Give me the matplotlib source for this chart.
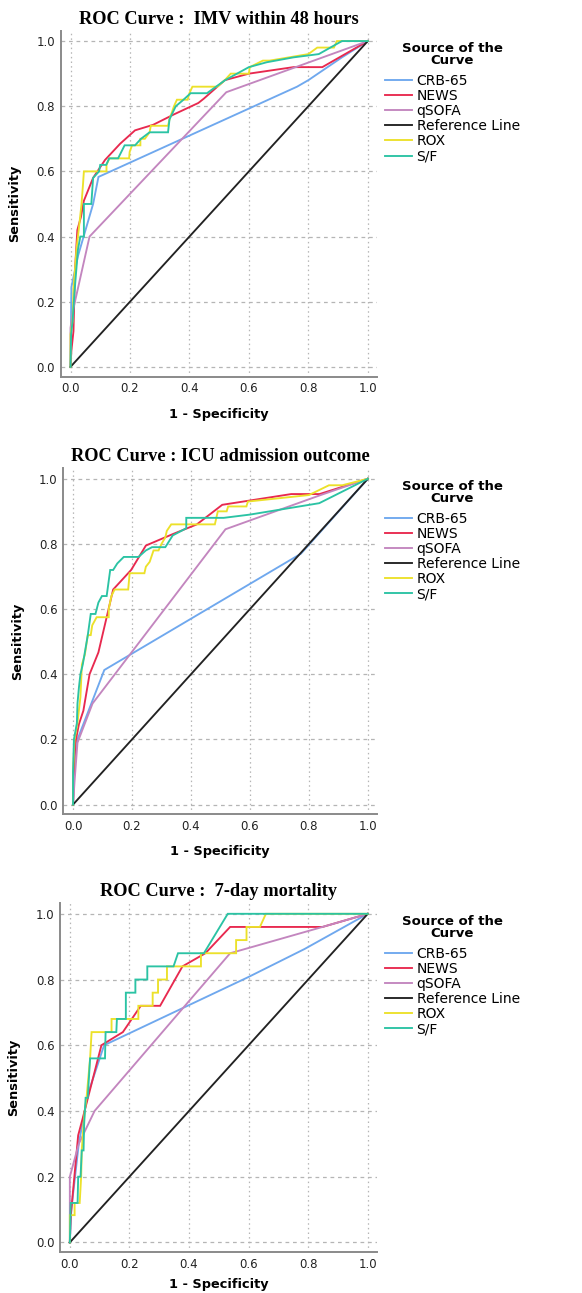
import matplotlib
matplotlib.use("Agg")
import matplotlib.pyplot as plt

# ---- data (1 - specificity, sensitivity) ----
series_names = ["CRB-65", "NEWS", "qSOFA", "Reference Line", "ROX", "S/F"]
series_colors = ["#6fa8ee", "#e8294f", "#c386bf", "#222222", "#ece12a", "#2bc3a4"]
panel_titles = ["ROC Curve :  IMV within 48 hours",
                "ROC Curve : ICU admission outcome",
                "ROC Curve :  7-day mortality"]
ticks = [0.0, 0.2, 0.4, 0.6, 0.8, 1.0]
ref_x = [0, 1]
ref_y = [0, 1]

# IMV within 48 hours
imv_crb_x = [0, 0.003, 0.025, 0.076, 0.094, 0.762, 0.80, 0.913, 1.0]
imv_crb_y = [0, 0.245, 0.34, 0.50, 0.583, 0.86, 0.88, 0.95, 1.0]
imv_news_x = [0, 0.003, 0.01, 0.015, 0.023, 0.035, 0.045, 0.076, 0.116, 0.167, 0.217, 0.278,
              0.348, 0.43, 0.448, 0.519, 0.6, 0.75, 0.847, 1.0]
imv_news_y = [0, 0.05, 0.11, 0.297, 0.42, 0.46, 0.51, 0.58, 0.635, 0.685, 0.726, 0.743,
              0.775, 0.81, 0.823, 0.88, 0.9, 0.92, 0.92, 1.0]
imv_qsofa_x = [0, 0.0, 0.01, 0.064, 0.524, 1.0]
imv_qsofa_y = [0, 0.12, 0.18, 0.40, 0.843, 1.0]
imv_rox_x = [0, 0.0, 0.007, 0.01, 0.02, 0.03, 0.037, 0.042, 0.045, 0.121, 0.121, 0.131, 0.197,
             0.199, 0.207, 0.235, 0.235, 0.25, 0.266, 0.27, 0.328, 0.333, 0.348, 0.358, 0.394,
             0.4, 0.41, 0.494, 0.519, 0.539, 0.6, 0.603, 0.647, 0.67, 0.80, 0.83, 0.886, 0.896, 1.0]
imv_rox_y = [0, 0.10, 0.14, 0.24, 0.36, 0.44, 0.50, 0.56, 0.60, 0.60, 0.62, 0.64, 0.64,
             0.66, 0.68, 0.68, 0.70, 0.70, 0.72, 0.74, 0.74, 0.76, 0.80, 0.82, 0.82,
             0.84, 0.86, 0.86, 0.88, 0.90, 0.90, 0.92, 0.94, 0.94, 0.96, 0.98, 0.98, 1.0, 1.0]
imv_sf_x = [0, 0.002, 0.007, 0.013, 0.025, 0.033, 0.045, 0.045, 0.07, 0.076, 0.096, 0.10, 0.12,
            0.13, 0.16, 0.182, 0.217, 0.237, 0.266, 0.328, 0.333, 0.354, 0.38, 0.404, 0.459,
            0.52, 0.6, 0.66, 0.75, 0.835, 0.913, 1.0]
imv_sf_y = [0, 0.10, 0.14, 0.225, 0.36, 0.40, 0.40, 0.50, 0.50, 0.58, 0.60, 0.62, 0.62,
            0.64, 0.64, 0.68, 0.68, 0.70, 0.72, 0.72, 0.76, 0.80, 0.82, 0.84, 0.84,
            0.88, 0.92, 0.935, 0.95, 0.96, 1.0, 1.0]

# ICU admission
icu_crb_x = [0, 0.005, 0.015, 0.106, 0.773, 1.0]
icu_crb_y = [0, 0.15, 0.2, 0.413, 0.77, 1.0]
icu_news_x = [0, 0.003, 0.007, 0.02, 0.035, 0.056, 0.086, 0.136, 0.197, 0.247, 0.338, 0.42,
              0.506, 0.74, 0.836, 1.0]
icu_news_y = [0, 0.07, 0.186, 0.247, 0.288, 0.4, 0.467, 0.66, 0.72, 0.795, 0.83, 0.86,
              0.92, 0.953, 0.953, 1.0]
icu_qsofa_x = [0, 0.005, 0.015, 0.066, 0.517, 0.84, 1.0]
icu_qsofa_y = [0, 0.07, 0.19, 0.31, 0.845, 0.95, 1.0]
icu_rox_x = [0, 0.0, 0.005, 0.015, 0.025, 0.03, 0.04, 0.045, 0.05, 0.06, 0.065, 0.08, 0.121,
             0.121, 0.13, 0.141, 0.187, 0.192, 0.242, 0.247, 0.26, 0.273, 0.29, 0.30, 0.313,
             0.318, 0.333, 0.481, 0.486, 0.491, 0.521, 0.526, 0.588, 0.593, 0.8, 0.868, 0.913, 1.0]
icu_rox_y = [0, 0.10, 0.20, 0.25, 0.33, 0.43, 0.46, 0.49, 0.52, 0.52, 0.55, 0.575, 0.575,
             0.60, 0.64, 0.66, 0.66, 0.71, 0.71, 0.73, 0.745, 0.78, 0.78, 0.80, 0.82,
             0.84, 0.86, 0.86, 0.88, 0.90, 0.90, 0.915, 0.915, 0.93, 0.95, 0.98, 0.98, 1.0]
icu_sf_x = [0, 0.0, 0.003, 0.013, 0.015, 0.02, 0.025, 0.033, 0.043, 0.05, 0.06, 0.076, 0.086,
            0.098, 0.114, 0.126, 0.136, 0.15, 0.172, 0.222, 0.247, 0.268, 0.313, 0.338, 0.384,
            0.384, 0.511, 0.6, 0.835, 1.0]
icu_sf_y = [0, 0.10, 0.20, 0.25, 0.31, 0.36, 0.40, 0.43, 0.483, 0.52, 0.585, 0.585, 0.62,
            0.64, 0.64, 0.72, 0.72, 0.74, 0.76, 0.76, 0.78, 0.79, 0.79, 0.826, 0.848,
            0.88, 0.88, 0.89, 0.925, 1.0]

# 7-day mortality
mort_crb_x = [0, 0.005, 0.03, 0.06, 0.115, 0.598, 0.788, 1.0]
mort_crb_y = [0, 0.1, 0.3, 0.45, 0.6, 0.807, 0.893, 1.0]
mort_news_x = [0, 0.003, 0.028, 0.043, 0.106, 0.178, 0.238, 0.303, 0.378, 0.455, 0.538, 0.848, 1.0]
mort_news_y = [0, 0.08, 0.326, 0.377, 0.60, 0.64, 0.72, 0.72, 0.84, 0.88, 0.96, 0.96, 1.0]
mort_qsofa_x = [0, 0.0, 0.03, 0.083, 0.538, 0.848, 1.0]
mort_qsofa_y = [0, 0.2, 0.3, 0.40, 0.88, 0.96, 1.0]
mort_rox_x = [0, 0.0, 0.016, 0.016, 0.033, 0.038, 0.04, 0.046, 0.05, 0.056, 0.068, 0.073, 0.14,
              0.14, 0.23, 0.23, 0.278, 0.278, 0.296, 0.296, 0.326, 0.326, 0.44, 0.44, 0.558,
              0.558, 0.593, 0.593, 0.638, 0.658, 1.0]
mort_rox_y = [0, 0.083, 0.083, 0.12, 0.12, 0.2, 0.28, 0.36, 0.40, 0.44, 0.56, 0.64, 0.64,
              0.68, 0.68, 0.72, 0.72, 0.76, 0.76, 0.80, 0.80, 0.84, 0.84, 0.88, 0.88,
              0.92, 0.92, 0.96, 0.96, 1.0, 1.0]
mort_sf_x = [0, 0.003, 0.026, 0.028, 0.036, 0.04, 0.046, 0.048, 0.053, 0.06, 0.068, 0.118, 0.12,
             0.156, 0.158, 0.188, 0.188, 0.22, 0.22, 0.26, 0.26, 0.348, 0.363, 0.45, 0.53, 1.0]
mort_sf_y = [0, 0.12, 0.12, 0.2, 0.2, 0.28, 0.28, 0.36, 0.44, 0.44, 0.56, 0.56, 0.64,
             0.64, 0.68, 0.68, 0.76, 0.76, 0.80, 0.80, 0.84, 0.84, 0.88, 0.88, 1.0, 1.0]

panels = [
    [(imv_crb_x, imv_crb_y), (imv_news_x, imv_news_y), (imv_qsofa_x, imv_qsofa_y),
     (ref_x, ref_y), (imv_rox_x, imv_rox_y), (imv_sf_x, imv_sf_y)],
    [(icu_crb_x, icu_crb_y), (icu_news_x, icu_news_y), (icu_qsofa_x, icu_qsofa_y),
     (ref_x, ref_y), (icu_rox_x, icu_rox_y), (icu_sf_x, icu_sf_y)],
    [(mort_crb_x, mort_crb_y), (mort_news_x, mort_news_y), (mort_qsofa_x, mort_qsofa_y),
     (ref_x, ref_y), (mort_rox_x, mort_rox_y), (mort_sf_x, mort_sf_y)],
]

# axes boxes in figure fractions (left, bottom, width, height)
boxes = [(0.1043, 0.7087, 0.543, 0.2676),
         (0.1088, 0.3702, 0.5385, 0.2676),
         (0.1031, 0.0315, 0.5442, 0.2699)]
xlabel_pads = [9, 9, 5]

fig = plt.figure(figsize=(5.82, 12.93), dpi=100)

for box, title, curves, xpad in zip(boxes, panel_titles, panels, xlabel_pads):
    ax = fig.add_axes(box)
    for (x, y), name, col in zip(curves, series_names, series_colors):
        ax.plot(x, y, color=col, lw=1.35, label=name, solid_joinstyle="miter")
    ax.set_xlim(-0.033, 1.03)
    ax.set_ylim(-0.03, 1.032)
    ax.set_xticks(ticks)
    ax.set_yticks(ticks)
    ax.set_xticklabels(["%.1f" % t for t in ticks])
    ax.set_yticklabels(["%.1f" % t for t in ticks])
    ax.tick_params(length=0, pad=4, labelsize=8.5, labelcolor="#222222")
    for t in ticks:
        ax.axhline(t, color="#b5b5b5", lw=0.9, ls=(0, (3, 3)), zorder=0)
        ax.axvline(t, color="#b5b5b5", lw=0.9, ls=(0, (1.2, 2.5)), zorder=0)
    ax.spines["top"].set_visible(False)
    ax.spines["right"].set_visible(False)
    ax.spines["left"].set_color("#8a8a8a")
    ax.spines["bottom"].set_color("#8a8a8a")
    ax.spines["left"].set_linewidth(1.4)
    ax.spines["bottom"].set_linewidth(1.4)
    ax.set_title(title, family="Liberation Serif", fontweight="bold", fontsize=13.2, pad=5)
    ax.set_xlabel("1 - Specificity", fontweight="bold", fontsize=9.3, labelpad=xpad)
    ax.set_ylabel("Sensitivity", fontweight="bold", fontsize=9.3, labelpad=11)
    leg = ax.legend(loc="upper left", bbox_to_anchor=(1.025, 0.966), frameon=False,
                    title="Source of the\nCurve", fontsize=10, handlelength=2.0,
                    handletextpad=0.3, labelspacing=0.08, borderaxespad=0, borderpad=0)
    leg.get_title().set_fontweight("bold")
    leg.get_title().set_fontsize(9.5)
    leg.get_title().set_linespacing(0.85)
    leg.get_title().set_multialignment("center")
    leg._legend_box.sep = 5

fig.savefig("out.png", dpi=100)
